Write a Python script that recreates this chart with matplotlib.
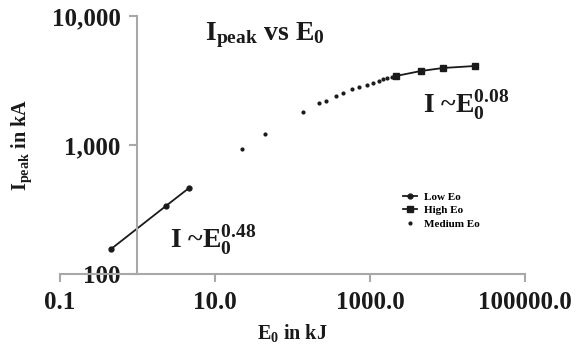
import matplotlib
matplotlib.use('Agg')
import matplotlib.pyplot as plt

# values (E0 in kJ, Ipeak in kA)
low_e = [0.455, 2.33, 4.62]
low_i = [156, 337, 464]

high_e = [2163, 4550, 8750, 22600]
high_i = [3427, 3748, 3953, 4097]

med_e = [22.3, 44.6, 135, 222, 271, 361, 453, 586, 728, 906, 1104, 1306, 1485, 1672, 1940]
med_i = [927, 1217, 1803, 2105, 2205, 2385, 2530, 2703, 2801, 2918, 3042, 3150, 3230, 3306, 3366]

x_ticks = [0.1, 10, 1000, 100000]
x_labels = ['0.1', '10.0', '1000.0', '100000.0']
y_ticks = [100, 1000, 10000]
y_labels = ['100', '1,000', '10,000']

plt.rcParams['font.family'] = 'Liberation Serif'
plt.rcParams['font.weight'] = 'bold'
plt.rcParams['axes.labelweight'] = 'bold'
plt.rcParams['mathtext.fontset'] = 'custom'
plt.rcParams['mathtext.rm'] = 'Liberation Serif:bold'
plt.rcParams['mathtext.it'] = 'Liberation Serif:bold'
plt.rcParams['mathtext.bf'] = 'Liberation Serif:bold'
plt.rcParams['mathtext.default'] = 'rm'

ink = '#1a1a1a'
axis_grey = '#a8a8a8'

fig = plt.figure(figsize=(5.78, 3.47), dpi=100)
ax = fig.add_axes([0.1038, 0.2104, 0.8045, 0.7435])

ax.plot(low_e, low_i, '-o', color=ink, lw=1.3, markersize=3.5, label='Low Eo')
ax.plot(high_e, high_i, '-s', color=ink, lw=1.3, markersize=4.5, label='High Eo')
ax.plot(med_e, med_i, 'o', color=ink, markersize=2.0, label='Medium Eo')

ax.set_xscale('log')
ax.set_yscale('log')
ax.set_xlim(0.1, 100000)
ax.set_ylim(100, 10000)
ax.minorticks_off()
ax.set_xticks(x_ticks, x_labels)
ax.set_yticks(y_ticks, y_labels)

for side in ['top', 'right']:
    ax.spines[side].set_visible(False)
ax.spines['left'].set_position(('data', 1))
for side in ['left', 'bottom']:
    ax.spines[side].set_color(axis_grey)
    ax.spines[side].set_linewidth(1.5)
ax.tick_params(axis='both', colors=axis_grey, labelcolor=ink, width=1.5,
               length=6, labelsize=18, pad=6)

ax.set_xlabel('E$_0$ in kJ', fontsize=14.5, color=ink)
ax.xaxis.set_label_coords(0.5, -0.185)
ax.set_ylabel('I$_{peak}$ in kA', fontsize=14.5, color=ink)
ax.yaxis.set_label_coords(-0.055, 0.5)

ax.text(0.44, 0.925, 'I$_{peak}$ vs E$_0$', transform=ax.transAxes,
        fontsize=20, ha='center', va='center', color=ink)
ax.text(0.78, 0.655, 'I ~E$_0^{0.08}$', transform=ax.transAxes,
        fontsize=20, ha='left', va='center', color=ink)
ax.text(0.237, 0.13, 'I ~E$_0^{0.48}$', transform=ax.transAxes,
        fontsize=20, ha='left', va='center', color=ink)

ax.legend(loc='upper left', bbox_to_anchor=(0.725, 0.34), frameon=False,
          fontsize=8, borderpad=0, handlelength=1.3, handletextpad=0.6,
          labelspacing=0.35)

fig.savefig('out.png', dpi=100)
